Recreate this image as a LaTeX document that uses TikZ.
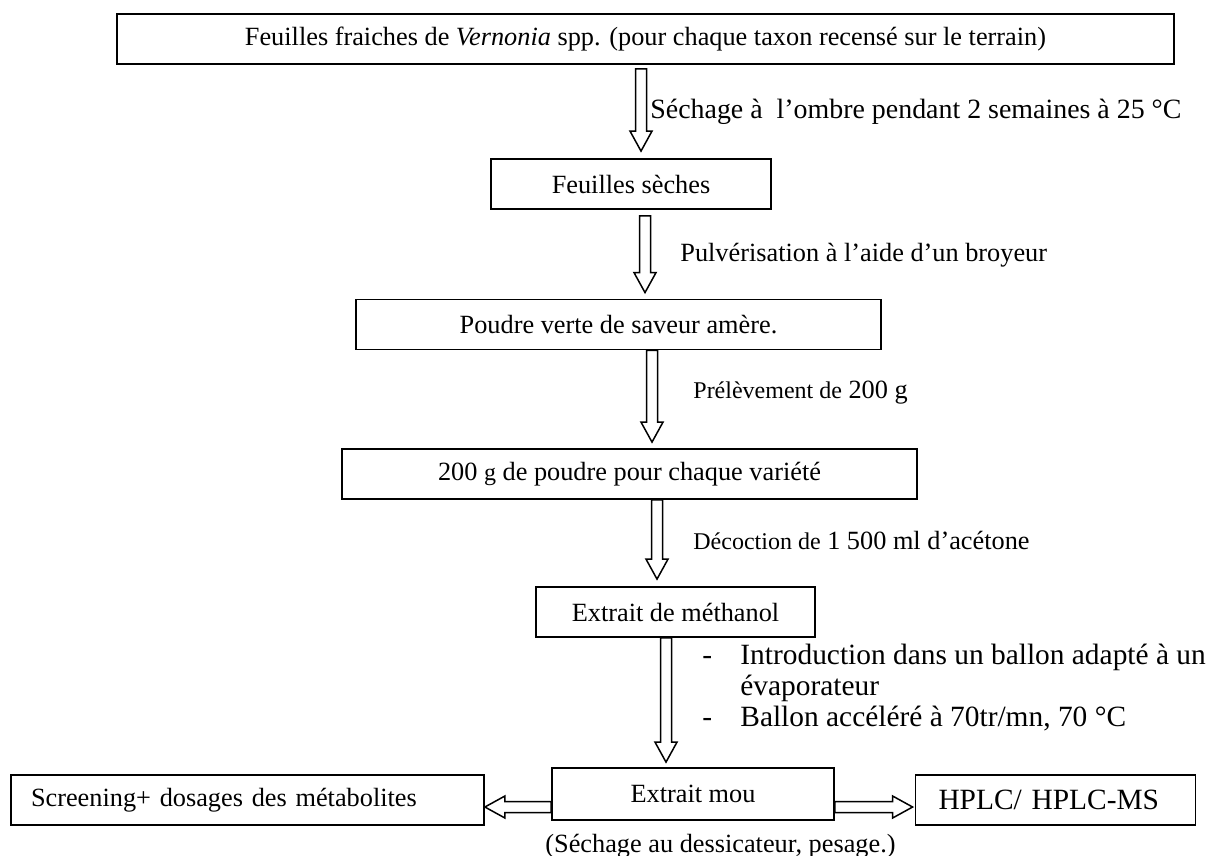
\documentclass[tikz,border=0pt]{standalone}
\usepackage{fontspec}
\setmainfont{Liberation Serif}
\usetikzlibrary{calc}

\newcommand{\basefont}{\fontsize{13.15pt}{15pt}\selectfont}
\newcommand{\bigfont}{\fontsize{14.7pt}{15.5pt}\selectfont}
\newcommand{\midfont}{\fontsize{13.95pt}{16pt}\selectfont}
\newcommand{\smallfont}{\fontsize{12pt}{14pt}\selectfont}

% hollow block arrow from #1 to #2 (tip at #2)
\newcommand{\hollowarrow}[2]{%
  \coordinate (ha) at (#1);
  \coordinate (hb) at (#2);
  \coordinate (hh) at ($(hb)!10pt!(ha)$);
  \draw[arrowline] ($(ha)!2.75pt!90:(hb)$) -- ($(hh)!2.75pt!90:(hb)$)
    -- ($(hh)!5.5pt!90:(hb)$) -- (hb) -- ($(hh)!5.5pt!-90:(hb)$)
    -- ($(hh)!2.75pt!-90:(hb)$) -- ($(ha)!2.75pt!-90:(hb)$) -- cycle;}

\tikzset{
  stepbox/.style={draw, line width=0.9pt, minimum height=25pt, inner sep=0pt, font=\basefont},
  note/.style={anchor=west, inner sep=0pt, font=\basefont},
  arrowline/.style={line width=0.75pt, line join=miter},
}

\begin{document}
\begin{tikzpicture}[x=0.5pt, y=-0.5pt]
  \useasboundingbox (0,0) rectangle (1213,855);

  % boxes
  \node[stepbox, minimum width=528.5pt] (fresh) at (645.5,39)
    {Feuilles fraiches de \textit{Vernonia} spp. (pour chaque taxon recensé sur le terrain)};
  \node[stepbox, minimum width=140pt] (dry) at (631,184) {Feuilles sèches};
  \node[stepbox, minimum width=262.5pt] (powder) at (618.5,324.5) {Poudre verte de saveur amère.};
  \node[stepbox, minimum width=287.5pt] (sample) at (629.5,474)
    {200 {\smallfont g} de poudre pour chaque variété};
  \node[stepbox, minimum width=139.5pt] (methanol) at (675.5,612) {Extrait de méthanol};
  \node[stepbox, minimum width=141pt, minimum height=26pt] (soft) at (693,794) {Extrait mou};
  \node[stepbox, text width=216.5pt, inner xsep=10pt, align=left] (screen) at (247.5,800)
    {Screening+ dosages des métabolites};
  \node[stepbox, text width=117pt, inner xsep=11.5pt, align=left, font=\bigfont] (hplc) at (1055.5,800)
    {HPLC/ HPLC-MS};

  % arrows
  \hollowarrow{$(fresh.south)+(-4.5,4)$}{$(dry.north)+(10,-7)$}
  \hollowarrow{$(dry.south)+(14,6)$}{$(powder.north)+(26.5,-6)$}
  \hollowarrow{$(powder.south)+(33.5,0)$}{$(sample.north)+(22.5,-6)$}
  \hollowarrow{$(sample.south)+(27.5,0)$}{$(methanol.north)+(-18.5,-7)$}
  \hollowarrow{$(methanol.south)+(-9.5,0)$}{$(soft.north)+(-27,-5)$}
  \hollowarrow{$(soft.west)+(0,13)$}{$(screen.east)+(0,7)$}
  \hollowarrow{$(soft.east)+(0,13)$}{$(hplc.west)+(-2,7)$}

  % step labels
  \node[note, font=\midfont] (dryinglbl) at (650,112) {Séchage à~ l’ombre pendant 2 semaines à 25 °C};
  \node[note] (grindlbl) at (680,255) {Pulvérisation à l’aide d’un broyeur};
  \node[note] (samplelbl) at (693,393) {{\smallfont Prélèvement de} 200 g};
  \node[note] (decoctlbl) at (693,540) {{\smallfont Décoction de} 1 500 ml d’acétone};
  \node[note, anchor=north west, font=\bigfont] (evaplbl) at (702,642)
    {\begin{tabular}{@{}p{19pt}@{}l@{}}
      - & Introduction dans un ballon adapté à un\\
        & évaporateur\\
      - & Ballon accéléré à 70tr/mn, 70 °C
    \end{tabular}};
  \node[note] (weighlbl) at (545,846) {(Séchage au dessicateur, pesage.)};
\end{tikzpicture}
\end{document}
